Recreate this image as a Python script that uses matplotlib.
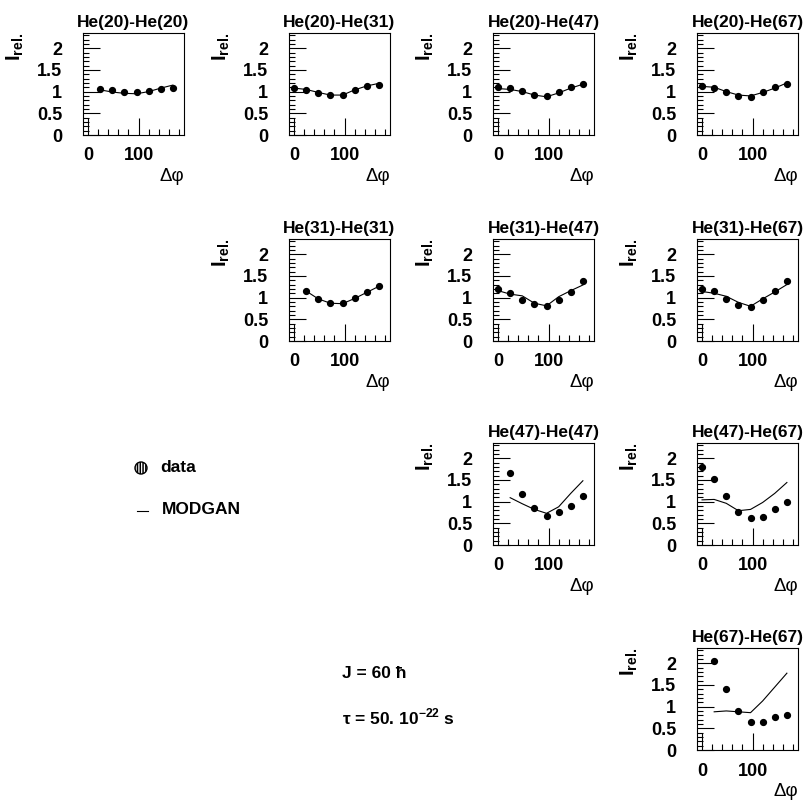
"""Relative two-particle intensity vs. relative azimuth for He pairs, data vs. MODGAN."""

import matplotlib
matplotlib.use("Agg")
import matplotlib.pyplot as plt
from matplotlib.patches import Circle
from matplotlib.ticker import MultipleLocator, FixedLocator

plt.rcParams["font.family"] = ["Liberation Sans", "DejaVu Sans"]
plt.rcParams["mathtext.fontset"] = "custom"
plt.rcParams["mathtext.rm"] = "Liberation Sans"
plt.rcParams["mathtext.bf"] = "Liberation Sans:bold"
plt.rcParams["hatch.linewidth"] = 1.1

# delta-phi bin centres (deg)
dphi = [0, 24, 48, 72, 96, 120, 144, 168]
dphi_diag = dphi[1:]

# measured relative intensities
data_20_20 = [1.05, 1.04, 0.98, 0.98, 1.02, 1.05, 1.08]
data_20_31 = [1.08, 1.04, 0.96, 0.92, 0.92, 1.04, 1.12, 1.15]
data_20_47 = [1.10, 1.08, 1.02, 0.92, 0.90, 0.98, 1.10, 1.18]
data_20_67 = [1.13, 1.08, 0.98, 0.91, 0.88, 0.98, 1.10, 1.18]
data_31_31 = [1.15, 0.96, 0.87, 0.87, 0.98, 1.13, 1.27]
data_31_47 = [1.19, 1.11, 0.95, 0.85, 0.81, 0.95, 1.14, 1.38]
data_31_67 = [1.19, 1.16, 0.97, 0.83, 0.79, 0.95, 1.16, 1.38]
data_47_47 = [1.67, 1.17, 0.86, 0.67, 0.75, 0.90, 1.13]
data_47_67 = [1.79, 1.52, 1.13, 0.77, 0.62, 0.65, 0.82, 0.98]
data_67_67 = [2.06, 1.41, 0.91, 0.65, 0.64, 0.75, 0.81]

# MODGAN predictions
model_20_20 = [1.04, 0.99, 0.96, 0.95, 1.00, 1.08, 1.15]
model_20_31 = [1.08, 1.05, 0.98, 0.92, 0.92, 1.04, 1.13, 1.19]
model_20_47 = [1.07, 1.05, 1.00, 0.92, 0.88, 0.97, 1.08, 1.17]
model_20_67 = [1.12, 1.10, 1.00, 0.92, 0.90, 0.98, 1.08, 1.20]
model_31_31 = [1.15, 0.97, 0.87, 0.86, 0.98, 1.12, 1.26]
model_31_47 = [1.16, 1.08, 1.04, 0.87, 0.81, 1.02, 1.16, 1.29]
model_31_67 = [1.14, 1.10, 1.03, 0.89, 0.80, 0.97, 1.13, 1.30]
model_47_47 = [1.09, 0.95, 0.82, 0.73, 0.88, 1.19, 1.48]
model_47_67 = [1.04, 1.05, 0.96, 0.79, 0.82, 0.98, 1.19, 1.44]
model_67_67 = [0.88, 0.90, 0.88, 0.86, 1.13, 1.45, 1.77]

# (row, col, title, x, data, model)
panels = [
    (0, 0, "He(20)-He(20)", dphi_diag, data_20_20, model_20_20),
    (0, 1, "He(20)-He(31)", dphi, data_20_31, model_20_31),
    (0, 2, "He(20)-He(47)", dphi, data_20_47, model_20_47),
    (0, 3, "He(20)-He(67)", dphi, data_20_67, model_20_67),
    (1, 1, "He(31)-He(31)", dphi_diag, data_31_31, model_31_31),
    (1, 2, "He(31)-He(47)", dphi, data_31_47, model_31_47),
    (1, 3, "He(31)-He(67)", dphi, data_31_67, model_31_67),
    (2, 2, "He(47)-He(47)", dphi_diag, data_47_47, model_47_47),
    (2, 3, "He(47)-He(67)", dphi, data_47_67, model_47_67),
    (3, 3, "He(67)-He(67)", dphi_diag, data_67_67, model_67_67),
]

W, H = 804, 805
fig = plt.figure(figsize=(W / 100, H / 100), dpi=100)

col_left = [83, 289, 493, 697]
row_top = [33, 239, 443, 648]
pw, ph = 101, 102

for row, col, title, x, y_data, y_model in panels:
    left, top = col_left[col], row_top[row]
    ax = fig.add_axes([left / W, 1 - (top + ph) / H, pw / W, ph / H])
    ax.plot(x, y_model, color="black", lw=0.8)
    ax.plot(x, y_data, "o", color="black", ms=4.2)
    ax.set_xlim(-10, 190)
    ax.set_ylim(0, 2.35)

    ax.xaxis.set_major_locator(FixedLocator([0, 100]))
    ax.xaxis.set_minor_locator(MultipleLocator(20))
    ax.yaxis.set_major_locator(FixedLocator([0, 0.5, 1, 1.5, 2]))
    ax.yaxis.set_minor_locator(MultipleLocator(0.1))
    ax.set_xticklabels(["0", "100"])
    ax.set_yticklabels(["0", "0.5", "1", "1.5", "2"])
    ax.tick_params(which="both", direction="in", top=False, right=False, width=0.8)
    ax.tick_params(which="major", length=12)
    ax.tick_params(which="minor", length=4)
    ax.tick_params(axis="y", which="major", pad=15)
    ax.tick_params(axis="x", which="major", pad=9)
    for lab in ax.get_xticklabels() + ax.get_yticklabels():
        lab.set_fontweight("bold")
        lab.set_fontsize(13)
    for sp in ax.spines.values():
        sp.set_linewidth(0.8)

    ax.set_title(title, fontsize=12.5, fontweight="bold", pad=4)
    ax.text(-0.67, 1.0, r"$\mathbf{I}_{\mathbf{rel.}}$", rotation=90,
            ha="center", va="top", fontsize=14.5, transform=ax.transAxes)
    ax.text(1.0, -33 / ph, "Δφ", ha="right", va="top", fontsize=13.5,
            transform=ax.transAxes)

# legend
fig.add_artist(Circle((141 / W, 1 - 468 / H), radius=6 / W, transform=fig.transFigure,
                      facecolor="white", edgecolor="black", hatch="||||||", lw=1))
fig.text(160 / W, 1 - 467 / H, "data", ha="left", va="center",
         fontsize=12.5, fontweight="bold")
fig.add_artist(plt.Line2D([137 / W, 148 / W], [1 - 511 / H, 1 - 511 / H],
                          transform=fig.transFigure, color="black", lw=0.8))
fig.text(162 / W, 1 - 510 / H, "MODGAN", ha="left", va="center",
         fontsize=12.5, fontweight="bold")

# model parameters
fig.text(342 / W, 1 - 673 / H, "J = 60 ħ", ha="left", va="center",
         fontsize=12.5, fontweight="bold")
fig.text(342 / W, 1 - 717 / H, r"τ = 50. 10$^{\mathbf{-22}}$ s", ha="left",
         va="center", fontsize=12.5, fontweight="bold")

fig.savefig("out.png", dpi=100)
